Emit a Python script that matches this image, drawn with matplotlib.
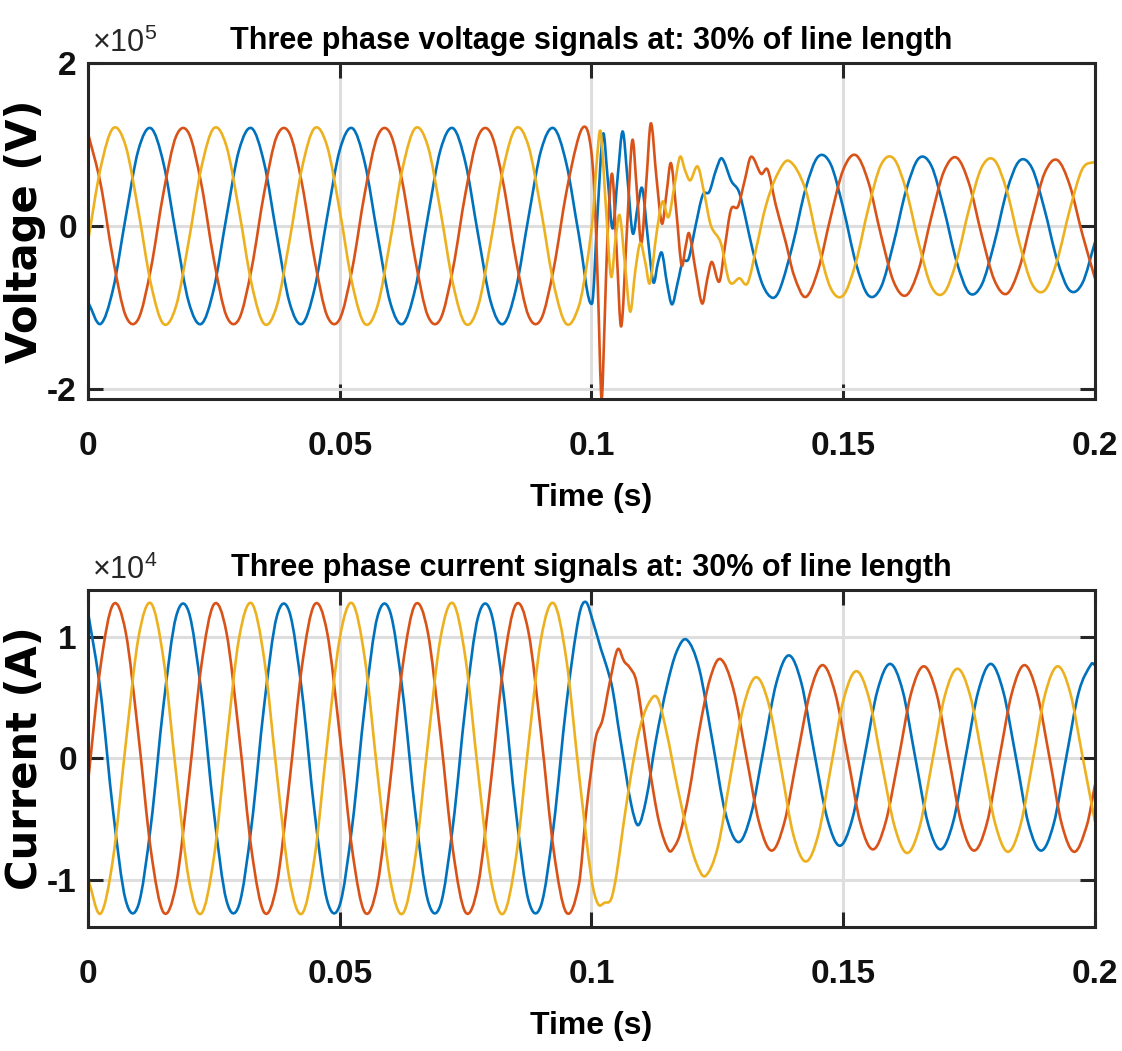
import numpy as np
import matplotlib
matplotlib.use("Agg")
import matplotlib.pyplot as plt
from matplotlib.path import Path
from matplotlib.patches import PathPatch

plt.rcParams['font.family'] = ['Liberation Sans', 'DejaVu Sans']
plt.rcParams['mathtext.fontset'] = 'custom'
plt.rcParams['mathtext.rm'] = 'Liberation Sans'
plt.rcParams['mathtext.it'] = 'Liberation Sans'
plt.rcParams['mathtext.bf'] = 'Liberation Sans:bold'

# ---- data (time in ms, voltage in 1e5 V, current in 1e4 A) ----
# steady pre-fault samples, every 2.5 ms
t_pre = [0, 2.5, 5, 7.5, 10, 12.5, 15, 17.5, 20, 22.5, 25, 27.5, 30, 32.5, 35, 37.5,
         40, 42.5, 45, 47.5, 50, 52.5, 55, 57.5, 60, 62.5, 65, 67.5, 70, 72.5, 75, 77.5,
         80, 82.5, 85, 87.5, 90, 92.5, 95, 97.5]

va_pre = [-0.93, -1.20, -0.77, 0.11, 0.93, 1.20, 0.77, -0.11,
          -0.93, -1.20, -0.77, 0.11, 0.93, 1.20, 0.77, -0.11,
          -0.93, -1.20, -0.77, 0.11, 0.93, 1.20, 0.77, -0.11,
          -0.93, -1.20, -0.77, 0.11, 0.93, 1.20, 0.77, -0.11,
          -0.93, -1.20, -0.77, 0.11, 0.93, 1.20, 0.77, -0.11]
vb_pre = [1.14, 0.52, -0.41, -1.10, -1.14, -0.52, 0.41, 1.10,
          1.14, 0.52, -0.41, -1.10, -1.14, -0.52, 0.41, 1.10,
          1.14, 0.52, -0.41, -1.10, -1.14, -0.52, 0.41, 1.10,
          1.14, 0.52, -0.41, -1.10, -1.14, -0.52, 0.41, 1.10,
          1.14, 0.52, -0.41, -1.10, -1.14, -0.52, 0.41, 1.10]
vc_pre = [-0.19, 0.71, 1.20, 0.98, 0.19, -0.71, -1.20, -0.98,
          -0.19, 0.71, 1.20, 0.98, 0.19, -0.71, -1.20, -0.98,
          -0.19, 0.71, 1.20, 0.98, 0.19, -0.71, -1.20, -0.98,
          -0.19, 0.71, 1.20, 0.98, 0.19, -0.71, -1.20, -0.98,
          -0.19, 0.71, 1.20, 0.98, 0.19, -0.71, -1.20, -0.98]

# fault transient + post-fault, voltage
va_t = [100.1, 101.2, 102.3, 103.2, 104.2, 105.2, 106.2, 107.2, 108.2, 109.2, 110.1, 111.2,
        112.3, 113.2, 114.0, 115.0, 116.0, 117.1, 118.1, 119.3, 120.6, 122.1, 123.4, 124.7,
        125.9, 127.8, 129.3, 130.6, 132.0, 134.0, 136.0,
        137.5, 140, 142.5, 145, 147.5, 150, 152.5, 155, 157.5, 160, 162.5, 165, 167.5,
        170, 172.5, 175, 177.5, 180, 182.5, 185, 187.5, 190, 192.5, 195, 197.5, 200]
va_v = [-0.95, 0.15, 1.13, 0.60, -0.03, 0.60, 1.16, 0.55, -0.09, 0.25, 0.46, -0.15,
        -0.69, -0.45, -0.33, -0.70, -0.96, -0.70, -0.44, -0.40, -0.02, 0.38, 0.42, 0.68,
        0.83, 0.55, 0.42, 0.10, -0.29, -0.72, -0.88,
        -0.76, -0.22, 0.45, 0.85, 0.76, 0.22, -0.45, -0.85, -0.75, -0.21, 0.44, 0.83, 0.74,
        0.21, -0.43, -0.82, -0.72, -0.21, 0.43, 0.80, 0.71, 0.20, -0.42, -0.79, -0.70, -0.20]

vb_t = [98.9, 99.9, 100.6, 101.3, 102.0, 102.6, 103.2, 104.1, 105.0, 105.9, 107.0, 108.1,
        109.0, 109.9, 110.9, 111.8, 112.9, 114.0, 114.9, 115.8, 116.9, 117.9, 118.7, 119.4,
        120.7, 122.0, 123.0, 123.9, 125.4, 126.5, 127.7, 129.1, 130.4, 131.7, 133.7, 135.0,
        136.6, 138.6, 140.2,
        142.5, 145, 147.5, 150, 152.5, 155, 157.5, 160, 162.5, 165, 167.5, 170, 172.5,
        175, 177.5, 180, 182.5, 185, 187.5, 190, 192.5, 195, 197.5, 200]
vb_v = [1.21, 0.95, 0.40, -0.80, -2.11, -1.20, -0.10, 0.64, -0.30, -1.23, -0.10, 1.05,
        0.45, -0.21, 0.55, 1.26, 0.60, 0.03, 0.40, 0.77, 0.15, -0.48, -0.25, -0.09,
        -0.55, -0.95, -0.65, -0.44, -0.68, -0.25, 0.20, 0.24, 0.55, 0.85, 0.64, 0.69,
        0.26, -0.20, -0.60,
        -0.87, -0.54, 0.11, 0.69, 0.87, 0.54, -0.11, -0.68, -0.85, -0.53, 0.11, 0.67, 0.84,
        0.52, -0.11, -0.66, -0.83, -0.51, 0.10, 0.65, 0.81, 0.50, -0.10, -0.64]

vc_t = [99.2, 100.4, 101.0, 101.8, 102.9, 103.9, 104.8, 105.6, 106.7, 107.7, 108.7, 109.7,
        110.7, 111.6, 112.9, 114.1, 115.3, 116.5, 117.6, 118.6, 119.6, 121.1, 122.4, 123.7,
        125.7, 127.4, 129.4, 131.0, 132.8, 134.6, 136.8, 139.2,
        142.5, 145, 147.5, 150, 152.5, 155, 157.5, 160, 162.5, 165, 167.5, 170, 172.5,
        175, 177.5, 180, 182.5, 185, 187.5, 190, 192.5, 195, 197.5, 200]
vc_v = [-0.42, 0.20, 0.75, 1.16, 0.20, -0.62, -0.15, 0.13, -0.50, -1.05, -0.55, -0.21,
        -0.45, -0.70, -0.10, 0.30, 0.11, 0.50, 0.85, 0.68, 0.56, 0.73, 0.40, 0.01,
        -0.21, -0.68, -0.64, -0.70, -0.25, 0.24, 0.62, 0.80,
        0.45, -0.22, -0.76, -0.85, -0.45, 0.22, 0.75, 0.83, 0.44, -0.21, -0.74, -0.82, -0.43,
        0.21, 0.72, 0.81, 0.43, -0.21, -0.71, -0.79, -0.42, 0.20, 0.70, 0.79]

# steady pre-fault current samples
ia_pre = [1.21, 0.55, -0.44, -1.17, -1.21, -0.55, 0.44, 1.17,
          1.21, 0.55, -0.44, -1.17, -1.21, -0.55, 0.44, 1.17,
          1.21, 0.55, -0.44, -1.17, -1.21, -0.55, 0.44, 1.17,
          1.21, 0.55, -0.44, -1.17, -1.21, -0.55, 0.44, 1.17,
          1.21, 0.55, -0.44, -1.17, -1.21, -0.55, 0.44, 1.17]
ib_pre = [-0.20, 0.76, 1.27, 1.04, 0.20, -0.76, -1.27, -1.04,
          -0.20, 0.76, 1.27, 1.04, 0.20, -0.76, -1.27, -1.04,
          -0.20, 0.76, 1.27, 1.04, 0.20, -0.76, -1.27, -1.04,
          -0.20, 0.76, 1.27, 1.04, 0.20, -0.76, -1.27, -1.04,
          -0.20, 0.76, 1.27, 1.04, 0.20, -0.76, -1.27, -1.04]
ic_pre = [-0.99, -1.28, -0.82, 0.12, 0.99, 1.28, 0.82, -0.12,
          -0.99, -1.28, -0.82, 0.12, 0.99, 1.28, 0.82, -0.12,
          -0.99, -1.28, -0.82, 0.12, 0.99, 1.28, 0.82, -0.12,
          -0.99, -1.28, -0.82, 0.12, 0.99, 1.28, 0.82, -0.12,
          -0.99, -1.28, -0.82, 0.12, 0.99, 1.28, 0.82, -0.12]

# fault transient + post-fault, current
ia_t = [98.9, 100.5, 101.9, 103.0, 104.2, 105.2, 106.2, 107.9, 109.3, 110.9, 112.8, 115.0,
        116.9, 118.9, 121.4, 124.0, 126.6, 129.2, 131.7, 134.2, 136.7, 139.2, 141.7, 144.2,
        146.8, 149.3, 151.8, 154.3, 156.8, 159.3, 161.8, 164.3, 166.8, 169.3, 171.8, 174.3,
        176.8, 179.3, 181.8, 184.3, 186.8, 189.3, 191.8, 194.3, 196.8, 199.3, 200.0]
ia_v = [1.29, 1.10, 0.90, 0.76, 0.57, 0.30, 0.04, -0.38, -0.55, -0.33, 0.15, 0.60,
        0.88, 0.98, 0.74, 0.15, -0.45, -0.69, -0.46, 0.08, 0.62, 0.85, 0.62, 0.06,
        -0.49, -0.72, -0.50, 0.03, 0.56, 0.78, 0.56, 0.01, -0.53, -0.75, -0.53, 0.01,
        0.55, 0.78, 0.55, 0.01, -0.54, -0.76, -0.54, 0.01, 0.55, 0.78, 0.77]

ib_t = [98.9, 100.0, 100.9, 102.2, 103.6, 105.2, 106.5, 107.6, 108.9, 110.2, 111.5, 113.4,
        115.4, 116.6, 117.6, 119.4, 121.4, 123.5, 125.6, 128.2, 130.7, 133.3, 135.8, 138.3,
        140.8, 143.4, 145.9, 148.4, 150.9, 153.4, 155.9, 158.4, 161.0, 163.5, 166.0, 168.5,
        171.0, 173.5, 176.0, 178.5, 181.0, 183.5, 186.0, 188.5, 191.0, 193.4, 195.9, 198.4, 200.0]
ib_v = [-0.46, -0.08, 0.18, 0.32, 0.62, 0.90, 0.80, 0.75, 0.64, 0.30, -0.07, -0.52,
        -0.76, -0.72, -0.62, -0.28, 0.23, 0.65, 0.82, 0.57, 0.03, -0.53, -0.76, -0.53,
        0.00, 0.54, 0.77, 0.54, 0.01, -0.53, -0.75, -0.53, 0.00, 0.54, 0.76, 0.54,
        0.00, -0.54, -0.76, -0.54, 0.00, 0.54, 0.77, 0.54, 0.00, -0.54, -0.77, -0.55, -0.22]

ic_t = [100.0, 101.3, 102.6, 103.9, 105.0, 106.2, 107.8, 109.5, 111.3, 113.1, 115.0, 116.8,
        119.0, 120.8, 122.6, 125.1, 127.6, 130.2, 132.7, 135.2, 137.7, 140.1, 142.6, 145.1,
        147.6, 150.1, 152.6, 155.1, 157.6, 160.2, 162.7, 165.2, 167.7, 170.2, 172.7, 175.2,
        177.7, 180.2, 182.7, 185.2, 187.7, 190.1, 192.6, 195.1, 197.6, 200.0]
ic_v = [-0.99, -1.20, -1.19, -1.16, -0.95, -0.59, -0.15, 0.23, 0.45, 0.50, 0.20, -0.18,
        -0.60, -0.86, -0.97, -0.73, -0.15, 0.43, 0.67, 0.45, -0.09, -0.63, -0.85, -0.62,
        -0.06, 0.49, 0.72, 0.50, -0.03, -0.56, -0.78, -0.56, -0.02, 0.52, 0.74, 0.52,
        -0.01, -0.54, -0.77, -0.55, -0.01, 0.53, 0.76, 0.54, 0.00, -0.52]

x_ticks = [0, 0.05, 0.1, 0.15, 0.2]
x_ticklabels = ['0', '0.05', '0.1', '0.15', '0.2']
colors = ['#0072BD', '#D95319', '#EDB120']


def smooth_path(t_ms, v):
    # cubic Hermite (Catmull-Rom) drawn as bezier segments through the samples
    t = np.asarray(t_ms, float) / 1000.0
    v = np.asarray(v, float)
    m = np.empty_like(v)
    m[1:-1] = (v[2:] - v[:-2]) / (t[2:] - t[:-2])
    m[0] = (v[1] - v[0]) / (t[1] - t[0])
    m[-1] = (v[-1] - v[-2]) / (t[-1] - t[-2])
    verts = [(t[0], v[0])]
    codes = [Path.MOVETO]
    for i in range(len(t) - 1):
        h = t[i + 1] - t[i]
        verts += [(t[i] + h / 3, v[i] + m[i] * h / 3),
                  (t[i + 1] - h / 3, v[i + 1] - m[i + 1] * h / 3),
                  (t[i + 1], v[i + 1])]
        codes += [Path.CURVE4] * 3
    return Path(verts, codes)


def style_axes(ax, ylim, yticks, title, ylabel, expo):
    ax.set_xlim(0, 0.2)
    ax.set_ylim(*ylim)
    ax.set_xticks(x_ticks)
    ax.set_xticklabels(x_ticklabels)
    ax.set_yticks(yticks)
    ax.set_yticklabels([str(y) for y in yticks])
    ax.grid(True, color='#dedede', linewidth=2.2)
    ax.set_axisbelow(True)
    for sp in ax.spines.values():
        sp.set_linewidth(2.2)
        sp.set_color('#262626')
    ax.tick_params(direction='in', length=11, width=2.2, top=True, right=True,
                   labelsize=24, colors='#262626', labelcolor='#111111')
    ax.tick_params(axis='x', pad=23)
    ax.tick_params(axis='y', pad=8)
    for lab in ax.get_xticklabels() + ax.get_yticklabels():
        lab.set_fontweight('bold')
    ax.set_title(title, fontsize=22, fontweight='bold', pad=10)
    ax.set_xlabel('Time (s)', fontsize=23, fontweight='bold')
    ax.xaxis.set_label_coords(0.5, -0.25)
    ax.xaxis.label.set_va('top')
    ax.set_ylabel(ylabel, fontsize=30, fontweight='bold', family=['DejaVu Sans'])
    ax.yaxis.set_label_coords(-0.042, 0.5)
    ax.text(0.004, 1.012, '×10$^{%d}$' % expo, transform=ax.transAxes,
            ha='left', va='bottom', fontsize=22, color='#262626')


fig = plt.figure(figsize=(11.22, 10.51), dpi=100)
ax1 = fig.add_axes([0.0784, 0.6204, 0.8975, 0.3197])
ax2 = fig.add_axes([0.0784, 0.1180, 0.8975, 0.3207])

volt = [(t_pre + va_t, va_pre + va_v), (t_pre + vb_t, vb_pre + vb_v), (t_pre + vc_t, vc_pre + vc_v)]
curr = [(t_pre + ia_t, ia_pre + ia_v), (t_pre + ib_t, ib_pre + ib_v), (t_pre + ic_t, ic_pre + ic_v)]

for ax, series in ((ax1, volt), (ax2, curr)):
    for (tt, vv), c in zip(series, colors):
        ax.add_patch(PathPatch(smooth_path(tt, vv), fill=False, edgecolor=c,
                               linewidth=1.9, capstyle='round', joinstyle='round'))

style_axes(ax1, (-2.12, 2.0), [-2, 0, 2],
           'Three phase voltage signals at: 30% of line length', 'Voltage (V)', 5)
style_axes(ax2, (-1.39, 1.39), [-1, 0, 1],
           'Three phase current signals at: 30% of line length', 'Current (A)', 4)

fig.savefig('out.png', dpi=100)
